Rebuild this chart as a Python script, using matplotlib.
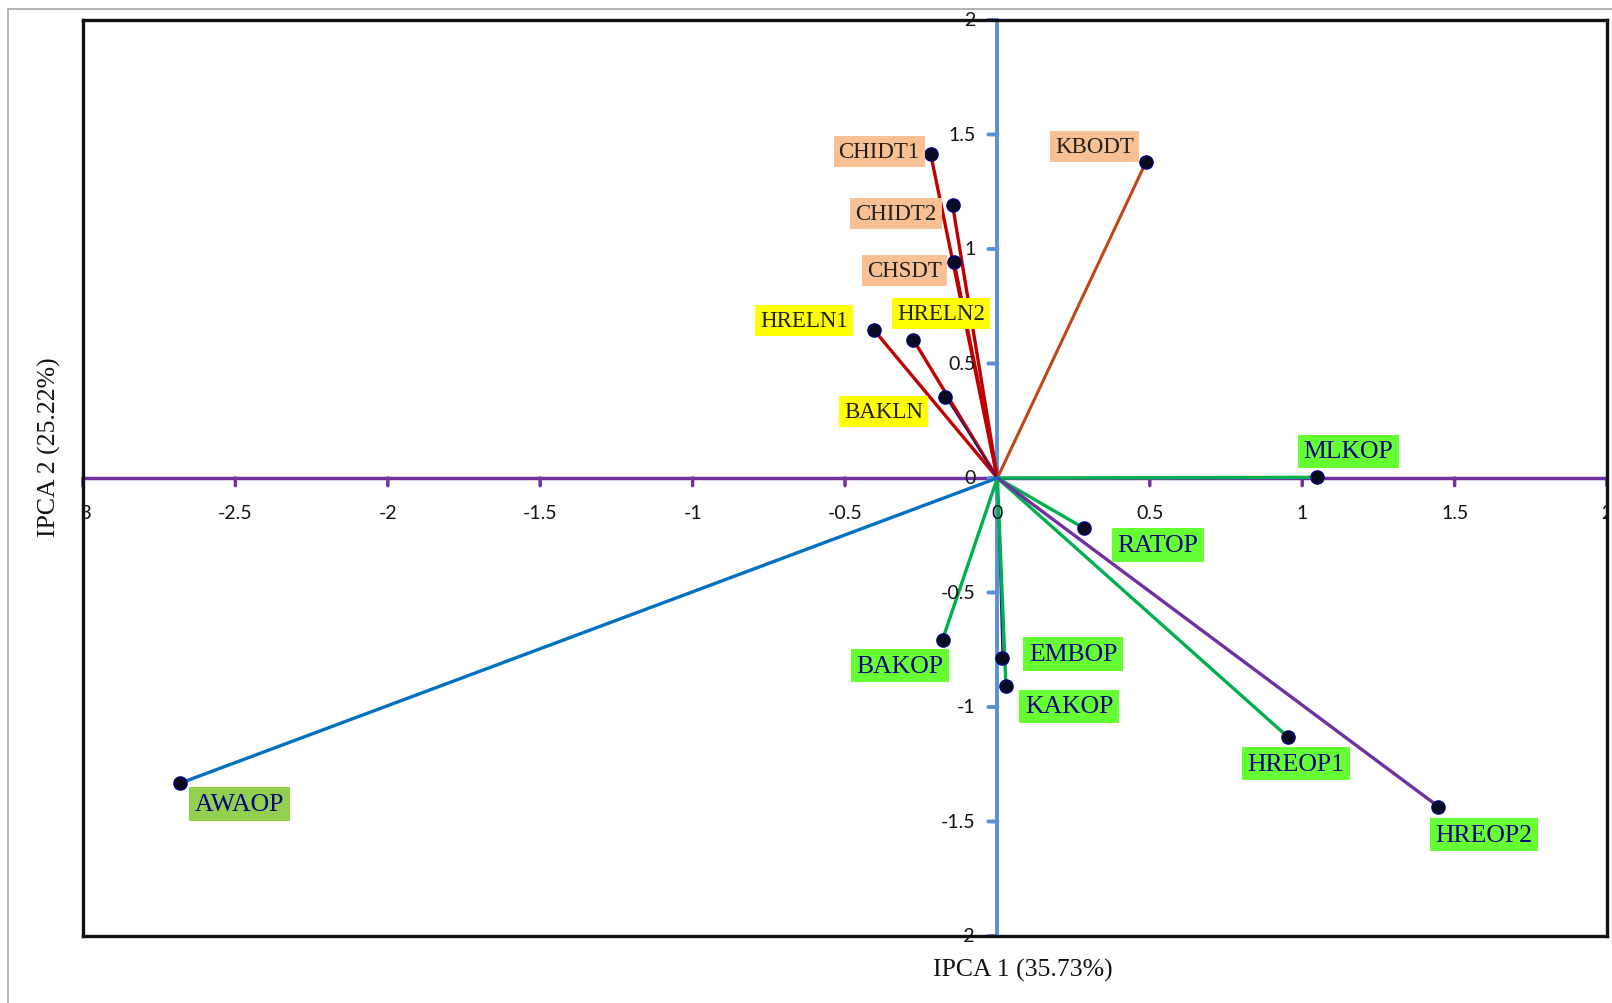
import matplotlib
matplotlib.use("Agg")
import matplotlib.pyplot as plt
from matplotlib.lines import Line2D

# IPCA biplot scores for each environment
genotypes = ["CHIDT1", "CHIDT2", "CHSDT", "HRELN1", "HRELN2", "BAKLN", "KBODT",
             "MLKOP", "RATOP", "BAKOP", "EMBOP", "KAKOP", "HREOP1", "HREOP2", "AWAOP"]
ipca1 = [-0.219, -0.147, -0.142, -0.406, -0.276, -0.171, 0.488,
         1.048, 0.285, -0.180, 0.016, 0.028, 0.954, 1.447, -2.682]
ipca2 = [1.415, 1.192, 0.942, 0.648, 0.604, 0.355, 1.381,
         0.003, -0.220, -0.706, -0.787, -0.907, -1.132, -1.435, -1.333]

x_ticks = [-3, -2.5, -2, -1.5, -1, -0.5, 0, 0.5, 1, 1.5, 2]
y_ticks = [-2, -1.5, -1, -0.5, 0, 0.5, 1, 1.5, 2]
x_tick_labels = ["-3", "-2.5", "-2", "-1.5", "-1", "-0.5", "0", "0.5", "1", "1.5", "2"]
y_tick_labels = ["-2", "-1.5", "-1", "-0.5", "0", "0.5", "1", "1.5", "2"]

x_title = "IPCA 1 (35.73%)"
y_title = "IPCA 2 (25.22%)"

# Styling: vector colour, vector width, label box colour, label text colour, label size
RED, NAVY, GREEN = "#C00000", "#1A1A80", "#00B050"
ORANGE_BOX, YELLOW_BOX, LIME_BOX, OLIVE_BOX = "#F9C094", "#FFFF00", "#66FF33", "#92D050"
DT_SIZE, OP_SIZE = 16.5, 18.5
style = {
    "CHIDT1": (RED, 2.4, ORANGE_BOX, "#1F1F1F", DT_SIZE),
    "CHIDT2": (RED, 2.4, ORANGE_BOX, "#1F1F1F", DT_SIZE),
    "CHSDT":  (RED, 2.4, ORANGE_BOX, "#1F1F1F", DT_SIZE),
    "HRELN1": (RED, 2.4, YELLOW_BOX, "#1F1F1F", DT_SIZE),
    "HRELN2": (RED, 2.4, YELLOW_BOX, "#1F1F1F", DT_SIZE),
    "BAKLN":  (NAVY, 1.0, YELLOW_BOX, "#1F1F1F", DT_SIZE),
    "KBODT":  ("#C0461A", 2.2, ORANGE_BOX, "#1F1F1F", DT_SIZE),
    "MLKOP":  (GREEN, 2.4, LIME_BOX, "#000080", OP_SIZE),
    "RATOP":  (GREEN, 2.4, LIME_BOX, "#000080", OP_SIZE),
    "BAKOP":  (GREEN, 2.4, LIME_BOX, "#000080", OP_SIZE),
    "EMBOP":  (NAVY, 1.2, LIME_BOX, "#000080", OP_SIZE),
    "KAKOP":  (GREEN, 2.4, LIME_BOX, "#000080", OP_SIZE),
    "HREOP1": (GREEN, 2.4, LIME_BOX, "#000080", OP_SIZE),
    "HREOP2": ("#7030A0", 2.4, LIME_BOX, "#000080", OP_SIZE),
    "AWAOP":  ("#0070C0", 2.4, OLIVE_BOX, "#000080", OP_SIZE),
}

# Centre of each label box (data coordinates)
label_pos = {
    "CHIDT1": (-0.388, 1.426), "CHIDT2": (-0.333, 1.156), "CHSDT": (-0.305, 0.907),
    "HRELN1": (-0.635, 0.689), "HRELN2": (-0.184, 0.718), "BAKLN": (-0.374, 0.291),
    "KBODT": (0.320, 1.448), "MLKOP": (1.151, 0.116), "RATOP": (0.527, -0.292),
    "BAKOP": (-0.320, -0.820), "EMBOP": (0.249, -0.769), "KAKOP": (0.236, -0.997),
    "HREOP1": (0.979, -1.248), "HREOP2": (1.597, -1.558), "AWAOP": (-2.487, -1.423),
}

fig = plt.figure(figsize=(16.12, 10.04), dpi=100)
ax = fig.add_axes([83 / 1612, 1 - 937 / 1004, (1607 - 83) / 1612, (937 - 21) / 1004])
ax.set_xlim(x_ticks[0], x_ticks[-1])
ax.set_ylim(y_ticks[0], y_ticks[-1])
ax.set_xticks([])
ax.set_yticks([])
for sp in ax.spines.values():
    sp.set_linewidth(2.4)
    sp.set_color("#111111")
    sp.set_zorder(6)

# Outer chart-area border
fig.add_artist(Line2D([8 / 1612, 8 / 1612], [0, 1 - 10 / 1004], transform=fig.transFigure,
                      color="#A6A6A6", lw=1.2))
fig.add_artist(Line2D([8 / 1612, 1], [1 - 10 / 1004, 1 - 10 / 1004], transform=fig.transFigure,
                      color="#A6A6A6", lw=1.2))

# Axis lines through the origin
AXIS_PURPLE, AXIS_BLUE = "#7030A0", "#5B8FD6"
ax.plot([x_ticks[0], x_ticks[-1]], [0, 0], color=AXIS_PURPLE, lw=2.5, zorder=2,
        solid_capstyle="butt")
ax.plot([0, 0], [y_ticks[0], y_ticks[-1]], color=AXIS_BLUE, lw=2.8, zorder=2,
        solid_capstyle="butt")

# Tick marks and tick labels
for xv, lab in zip(x_ticks, x_tick_labels):
    ax.annotate("", xy=(xv, 0), xytext=(0, -5.5), textcoords="offset points",
                xycoords="data", arrowprops=dict(arrowstyle="-", color=AXIS_PURPLE, lw=2.5,
                                                 shrinkA=0, shrinkB=0), zorder=2)
    ax.annotate(lab, xy=(xv, 0), xytext=(0, -24.5), textcoords="offset points",
                ha="center", va="center", fontsize=14, fontfamily="Lato",
                color="#111111", annotation_clip=False, clip_on=True, zorder=5)
for yv, lab in zip(y_ticks, y_tick_labels):
    ax.annotate("", xy=(0, yv), xytext=(-6.5, 0), textcoords="offset points",
                xycoords="data", arrowprops=dict(arrowstyle="-", color=AXIS_BLUE, lw=2.8,
                                                 shrinkA=0, shrinkB=0), zorder=2)
    ax.annotate(lab, xy=(0, yv), xytext=(-15.5, 0), textcoords="offset points",
                ha="right", va="center", fontsize=14, fontfamily="Lato",
                color="#111111", annotation_clip=False, zorder=5)

# Vectors from the origin, end points and labels
for name, xv, yv in zip(genotypes, ipca1, ipca2):
    col, lw, box, tcol, fs = style[name]
    ax.plot([0, xv], [0, yv], color=col, lw=lw, zorder=3, solid_capstyle="round")
for name, xv, yv in zip(genotypes, ipca1, ipca2):
    ax.plot([xv], [yv], marker="o", ms=9.5, mfc="#0B0B1E", mec="#000080", mew=1.0,
            zorder=4, linestyle="none")
for name in genotypes:
    col, lw, box, tcol, fs = style[name]
    lx, ly = label_pos[name]
    ax.text(lx, ly, name, ha="center", va="center", fontsize=fs,
            fontfamily="Liberation Serif", color=tcol, zorder=5,
            bbox=dict(boxstyle="square,pad=0.22", fc=box, ec="none"))

fig.text(1023 / 1612, 1 - 970 / 1004, x_title, ha="center", va="center",
         fontsize=18.5, fontfamily="Liberation Serif", color="#111111")
fig.text(49 / 1612, 1 - 447 / 1004, y_title, ha="center", va="center", rotation=90,
         fontsize=18.5, fontfamily="Liberation Serif", color="#111111")

fig.savefig("out.png", dpi=100, facecolor="white")
